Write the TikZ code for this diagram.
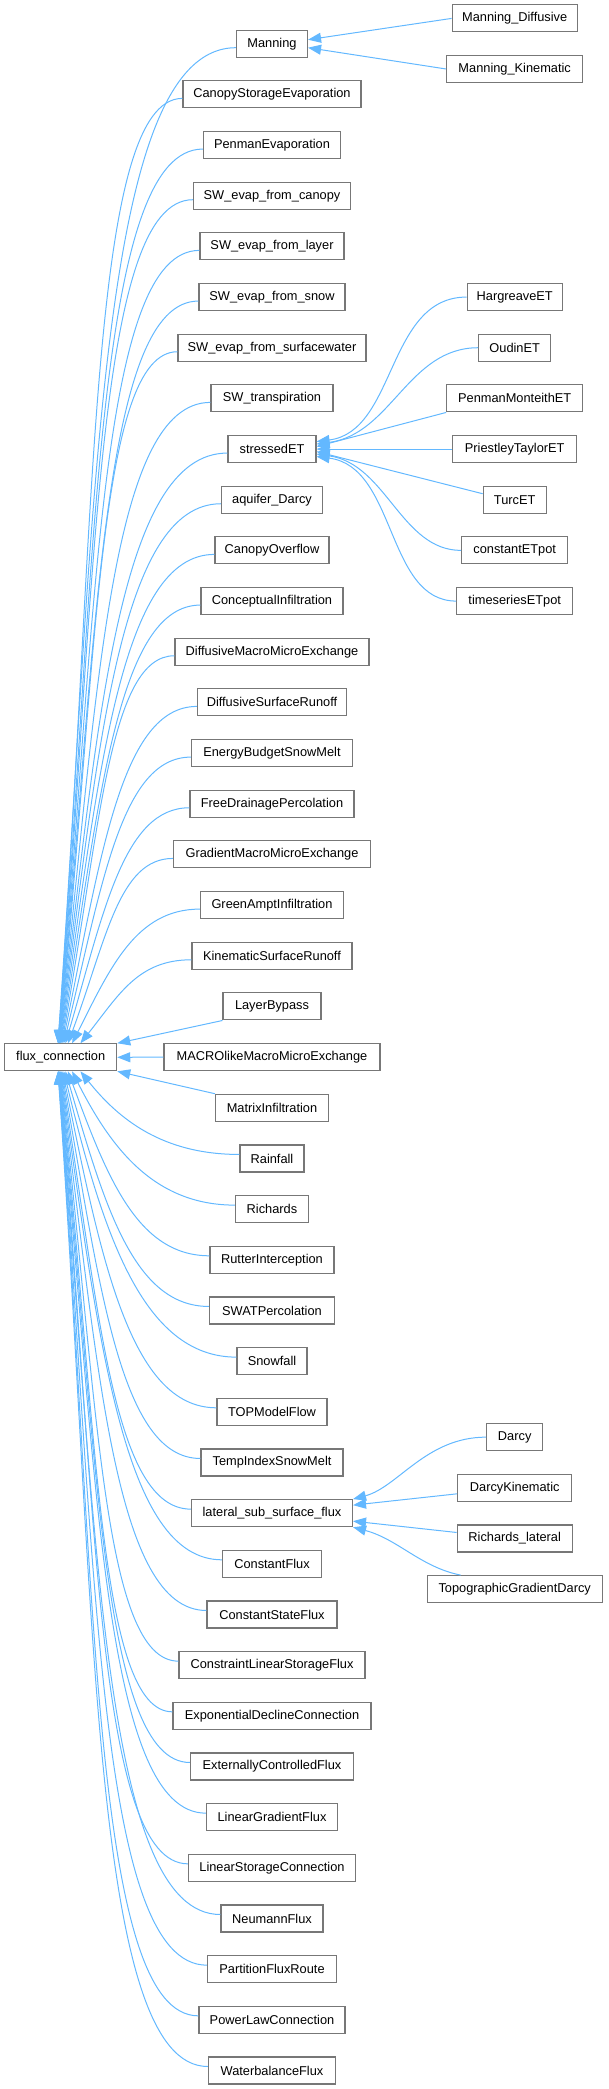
\documentclass[tikz,border=0pt]{standalone}
\usepackage{fontspec}
\setmainfont{Liberation Sans}
\usetikzlibrary{arrows.meta}
\definecolor{edgeblue}{HTML}{63B8FF}
\definecolor{boxgray}{HTML}{777777}
\tikzset{
  cls/.style={draw=boxgray,fill=white,line width=1.1pt,minimum height=27pt,inner sep=0pt,
    font=\fontsize{12.8}{15}\selectfont},
  inh/.style={edgeblue,line width=1pt,arrows={Triangle[length=13pt,width=10pt]-}},
}

\begin{document}
\begin{tikzpicture}[x=1pt,y=-1pt]
\useasboundingbox (0,0) rectangle (608,2089);
\node[cls,minimum width=112pt] (fc) at (60.7,1057.3) {flux\_connection};
% direct subclasses of flux_connection, one per row
\foreach \n/\t/\w [count=\r from 0] in {man/Manning/71,cse/CanopyStorageEvaporation/178,
  pev/PenmanEvaporation/137,swc/SW\_evap\_from\_canopy/157,swl/SW\_evap\_from\_layer/144,
  sws/SW\_evap\_from\_snow/146,sww/SW\_evap\_from\_surfacewater/188,swt/SW\_transpiration/122,
  se/stressedET/88,aqd/aquifer\_Darcy/101,cov/CanopyOverflow/114,cin/ConceptualInfiltration/142,
  dmm/DiffusiveMacroMicroExchange/194,dsr/DiffusiveSurfaceRunoff/149,ebs/EnergyBudgetSnowMelt/161,
  fdp/FreeDrainagePercolation/164,gmm/GradientMacroMicroExchange/197,gai/GreenAmptInfiltration/143,
  ksr/KinematicSurfaceRunoff/160,lbp/LayerBypass/98,mac/MACROlikeMacroMicroExchange/216,
  mif/MatrixInfiltration/113,rain/Rainfall/64,rich/Richards/73,rut/RutterInterception/124,
  swp/SWATPercolation/125,snow/Snowfall/70,top/TOPModelFlow/110,tism/TempIndexSnowMelt/142,
  lat/lateral\_sub\_surface\_flux/161,cfl/ConstantFlux/99,csf/ConstantStateFlux/130,
  clsf/ConstraintLinearStorageFlux/186,edc/ExponentialDeclineConnection/198,
  ecf/ExternallyControlledFlux/163,lgf/LinearGradientFlux/131,lsc/LinearStorageConnection/167,
  neu/NeumannFlux/102,pfr/PartitionFluxRoute/129,plc/PowerLawConnection/146,wbf/WaterbalanceFlux/127}{
  \pgfmathsetmacro\ys{43.7+50.67*\r}
  \node[cls,minimum width=\w pt] (\n) at (272,\ys) {\t};
  \pgfmathsetmacro\dd{max(abs(\r-20),1)}
  \pgfmathsetmacro\xo{51.3+50/\dd}
  \pgfmathsetmacro\ye{\r<20 ? 1043.8 : 1070.8}
  \pgfmathsetmacro\ay{0.55*(\ys-\ye)}
  \pgfmathsetmacro\bx{-(0.45+0.016*\dd)*(272-\w/2-\xo-4.7)}
  \ifnum\r=19 \draw[inh] (fc.north east) -- (\n.south west);
  \else\ifnum\r=20 \draw[inh] (fc.east) -- (\n.west);
  \else\ifnum\r=21 \draw[inh] (fc.south east) -- (\n.north west);
  \else\ifnum\r<20 \draw[inh] ([xshift=\xo pt]fc.north west) .. controls +(38.5,\ay) and +(\bx,0) .. ([yshift=-4pt]\n.west);
  \else \draw[inh] ([xshift=\xo pt]fc.south west) .. controls +(38.5,\ay) and +(\bx,0) .. ([yshift=4pt]\n.west);
  \fi\fi\fi\fi
}
% Manning
\node[cls,minimum width=125pt] (mdif) at (514.7,18.4) {Manning\_Diffusive};
\node[cls,minimum width=136pt] (mkin) at (514.7,69) {Manning\_Kinematic};
\draw[inh] ([yshift=4pt]man.east) -- (mdif.west);
\draw[inh] ([yshift=-4pt]man.east) -- (mkin.west);
% stressedET
\foreach \n/\t/\w/\k in {harg/HargreaveET/95/5,oud/OudinET/72/6,pmet/PenmanMonteithET/136/7,
  ptet/PriestleyTaylorET/124/8,turc/TurcET/63/9,cet/constantETpot/106/10,tset/timeseriesETpot/116/11}
  \node[cls,minimum width=\w pt] (\n) at (514.7,{43.7+50.67*\k}) {\t};
\draw[inh] ([yshift=7.5pt]se.east) .. controls +(80,-10) and +(-80,0) .. (harg.west);
\draw[inh] ([yshift=5pt]se.east) .. controls +(75,-10) and +(-70,0) .. (oud.west);
\draw[inh] ([yshift=2.5pt]se.east) -- (pmet.south west);
\draw[inh] (se.east) -- (ptet.west);
\draw[inh] ([yshift=-2.5pt]se.east) -- ([yshift=6pt]turc.west);
\draw[inh] ([yshift=-5pt]se.east) .. controls +(70,10) and +(-60,0) .. (cet.west);
\draw[inh] ([yshift=-7.5pt]se.east) .. controls +(80,10) and +(-70,0) .. (tset.west);
% lateral_sub_surface_flux
\foreach \n/\t/\w/\k in {darcy/Darcy/56/27.5,dkin/DarcyKinematic/114/28.5,
  rlat/Richards\_lateral/115/29.5,tgd/TopographicGradientDarcy/175/30.5}
  \node[cls,minimum width=\w pt] (\n) at (514.7,{43.7+50.67*\k}) {\t};
\draw[inh] (lat.north east) .. controls +(45,-12) and +(-60,0) .. (darcy.west);
\draw[inh] ([yshift=8pt]lat.east) -- ([yshift=-6pt]dkin.west);
\draw[inh] ([yshift=-8pt]lat.east) -- ([yshift=6pt]rlat.west);
\draw[inh] (lat.south east) .. controls +(45,12) and +(-40,-8) .. ([xshift=34pt]tgd.north west);
\end{tikzpicture}
\end{document}
